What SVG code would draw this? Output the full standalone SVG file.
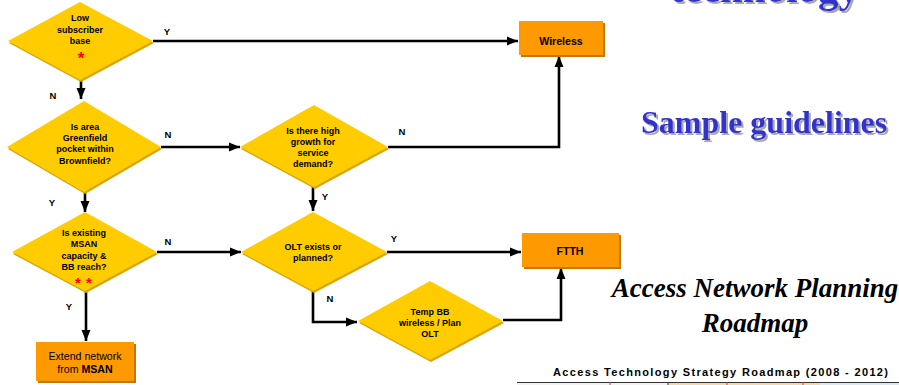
<svg xmlns="http://www.w3.org/2000/svg" width="899" height="385" viewBox="0 0 899 385">
<defs>
<marker id="ah" markerUnits="userSpaceOnUse" markerWidth="12" markerHeight="12" viewBox="0 0 12 12" refX="11" refY="6" orient="auto">
<path d="M0,1.5 L11,6 L0,10.5 Z" fill="#000"/>
</marker>
<filter id="tsh" x="-5%" y="-20%" width="110%" height="140%">
<feDropShadow dx="2" dy="2" stdDeviation="0.6" flood-color="#A8A8A8" flood-opacity="1"/>
</filter>
</defs>
<style>
.dia{fill:#FFCC00}
.dsh{fill:#D9A400}
.box{fill:#FF9900}
.bsh{fill:#C87400}
.t{font-family:"Liberation Sans",Arial,sans-serif;font-size:9px;font-weight:bold;fill:#000;text-anchor:middle}
.bt{font-family:"Liberation Sans",Arial,sans-serif;font-size:10.6px;fill:#000;text-anchor:middle}
.lbl{font-family:"Liberation Sans",Arial,sans-serif;font-size:9.5px;font-weight:bold;fill:#000;text-anchor:middle}
.ast{font-family:"Liberation Sans",Arial,sans-serif;font-weight:bold;fill:#FF0000;text-anchor:middle}
.c{fill:none;stroke:#000;stroke-width:2.6;marker-end:url(#ah)}
.blue{font-family:"Liberation Serif","Times New Roman",serif;font-weight:bold;fill:#3333CC;filter:url(#tsh)}
</style>
<rect width="899" height="385" fill="#fff"/>

<!-- headings -->
<text class="blue" x="670" y="2" font-size="41">technology</text>
<text class="blue" x="641" y="133" font-size="32">Sample guidelines</text>
<text x="755" y="297" font-family="'Liberation Serif','Times New Roman',serif" font-size="27" font-style="italic" font-weight="bold" text-anchor="middle" fill="#000">Access Network Planning</text>
<text x="755" y="332" font-family="'Liberation Serif','Times New Roman',serif" font-size="27" font-style="italic" font-weight="bold" text-anchor="middle" fill="#000">Roadmap</text>
<text x="553" y="376" font-family="'Liberation Sans',Arial,sans-serif" font-size="11" font-weight="bold" textLength="335" lengthAdjust="spacing" fill="#000">Access Technology Strategy Roadmap (2008 - 2012)</text>
<g id="table-strip">
<rect x="517" y="382" width="382" height="3" fill="#F2F2F2"/>
<rect x="668" y="382" width="152" height="3" fill="#F6D8A8"/>
<rect x="820" y="382" width="79" height="3" fill="#D8E8F4"/>
<line x1="517" y1="382.5" x2="899" y2="382.5" stroke="#333" stroke-width="1"/>
<line x1="610" y1="382" x2="610" y2="385" stroke="#C04040" stroke-width="1"/>
<line x1="668" y1="382" x2="668" y2="385" stroke="#333" stroke-width="1"/>
<line x1="727" y1="382" x2="727" y2="385" stroke="#C04040" stroke-width="1"/>
<line x1="803" y1="382" x2="803" y2="385" stroke="#C04040" stroke-width="1"/>
</g>

<!-- connectors -->
<g id="connectors">
<path class="c" d="M153,41 H518"/>
<path class="c" d="M81,80 V99"/>
<path class="c" d="M161,147 H240"/>
<path class="c" d="M85,192 V212"/>
<path class="c" d="M157,252 H241"/>
<path class="c" d="M86,291 V341"/>
<path class="c" d="M388,147 H559 V56"/>
<path class="c" d="M313,187 V211"/>
<path class="c" d="M387,252 H521"/>
<path class="c" d="M313,291 V322 H357"/>
<path class="c" d="M503,320 H561 V268"/>
<text class="lbl" x="167" y="35">Y</text>
<text class="lbl" x="53" y="99">N</text>
<text class="lbl" x="168" y="138">N</text>
<text class="lbl" x="52" y="206">Y</text>
<text class="lbl" x="168" y="245">N</text>
<text class="lbl" x="69" y="310">Y</text>
<text class="lbl" x="402" y="135">N</text>
<text class="lbl" x="325" y="200">Y</text>
<text class="lbl" x="394" y="242">Y</text>
<text class="lbl" x="330" y="302">N</text>
</g>

<!-- nodes -->
<g id="low-subscriber">
<polygon class="dsh" points="81,4 154,43 81,82 9,43"/>
<polygon class="dia" points="80,2 153,41 80,80 8,41"/>
<text class="t" x="80" y="21">Low</text>
<text class="t" x="80" y="33">subscriber</text>
<text class="t" x="80" y="44">base</text>
<text class="ast" x="81" y="64" font-size="17">*</text>
</g>
<g id="greenfield">
<polygon class="dsh" points="85,103 162,149 85,194 8,149"/>
<polygon class="dia" points="84,101 161,147 84,192 7,147"/>
<text class="t" x="85" y="130">Is area</text>
<text class="t" x="85" y="141">Greenfield</text>
<text class="t" x="85" y="152">pocket within</text>
<text class="t" x="85" y="164">Brownfield?</text>
</g>
<g id="msan">
<polygon class="dsh" points="86,214 158,254 86,293 13,254"/>
<polygon class="dia" points="85,212 157,252 85,291 12,252"/>
<text class="t" x="84" y="236">Is existing</text>
<text class="t" x="84" y="247">MSAN</text>
<text class="t" x="84" y="259">capacity &amp;</text>
<text class="t" x="84" y="270">BB reach?</text>
<text class="ast" x="78" y="288" font-size="15">*</text>
<text class="ast" x="89" y="288" font-size="15">*</text>
</g>
<g id="high-growth">
<polygon class="dsh" points="315,107 389,149 315,189 241,149"/>
<polygon class="dia" points="314,105 388,147 314,187 240,147"/>
<text class="t" x="313" y="134">Is there high</text>
<text class="t" x="313" y="145">growth for</text>
<text class="t" x="313" y="156">service</text>
<text class="t" x="313" y="167">demand?</text>
</g>
<g id="olt">
<polygon class="dsh" points="314,214 388,254 314,293 242,254"/>
<polygon class="dia" points="313,212 387,252 313,291 241,252"/>
<text class="t" x="313" y="250">OLT exists or</text>
<text class="t" x="313" y="261">planned?</text>
</g>
<g id="temp-bb">
<polygon class="dsh" points="431,283 504,323 431,362 359,323"/>
<polygon class="dia" points="430,281 503,321 430,360 358,321"/>
<text class="t" x="430" y="315">Temp BB</text>
<text class="t" x="430" y="326">wireless / Plan</text>
<text class="t" x="430" y="337">OLT</text>
</g>
<g id="wireless">
<rect class="bsh" x="521" y="23" width="84" height="34"/>
<rect class="box" x="519" y="21" width="84" height="34"/>
<text class="bt" x="561" y="45" font-weight="bold">Wireless</text>
</g>
<g id="ftth">
<rect class="bsh" x="524" y="235" width="97" height="34"/>
<rect class="box" x="522" y="233" width="97" height="34"/>
<text class="bt" x="570" y="255" font-weight="bold">FTTH</text>
</g>
<g id="extend-msan">
<rect class="bsh" x="38" y="344" width="98" height="39"/>
<rect class="box" x="36" y="342" width="98" height="39"/>
<text class="bt" x="85" y="360">Extend network</text>
<text class="bt" x="85" y="373">from <tspan font-weight="bold">MSAN</tspan></text>
</g>
</svg>
